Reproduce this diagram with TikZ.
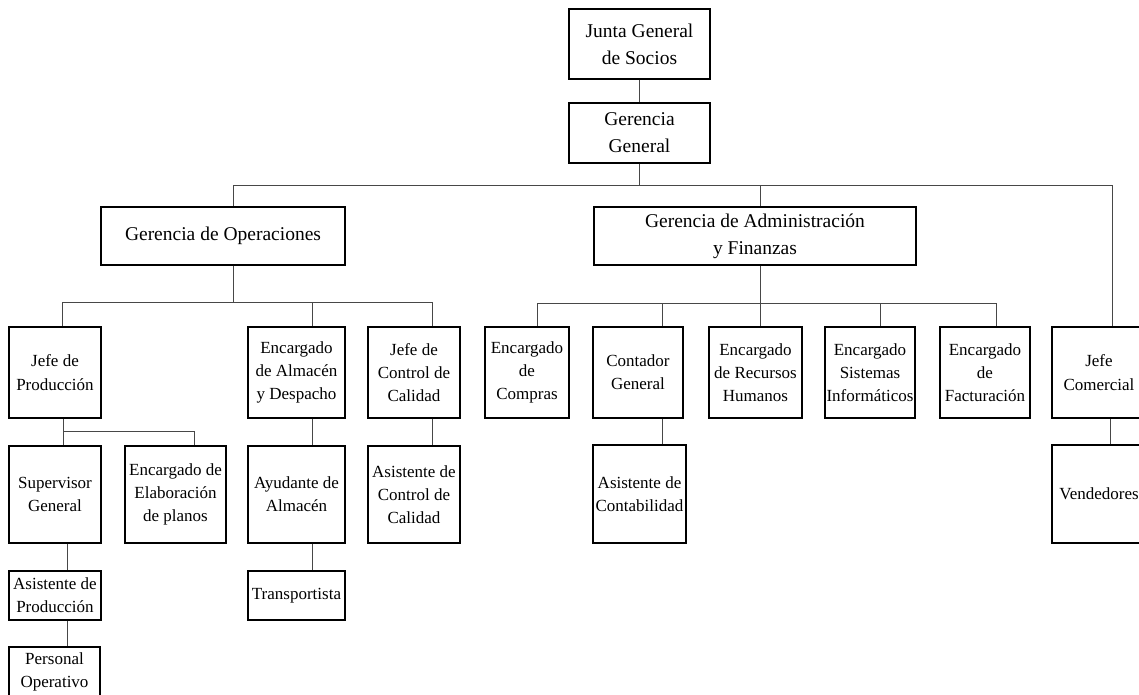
\documentclass[tikz,border=0pt]{standalone}
\usepackage{fontspec}
\setmainfont{Liberation Serif}
\usetikzlibrary{calc}
\newcommand\orgsmallfont{\fontsize{17}{23.3}\selectfont}
\newcommand\orgbigfont{\fontsize{19.5}{27}\selectfont}
\newcommand\orgnode[7][]{\node[orgbox,#1,minimum width={#4-#3},minimum height={#6-#5}] (#2) at ({(#3+#4)/2},{(#5+#6)/2}) {#7};}
\tikzset{
  orgbox/.style={draw=black, line width=1.1pt, fill=white, align=center, inner sep=0pt, font=\orgsmallfont},
  heavy/.style={line width=2.4pt},
  topbox/.style={font=\orgbigfont},
  conn/.style={draw=black!72, line width=0.9pt},
}
\begin{document}
\begin{tikzpicture}[x=1pt,y=-1pt]
\useasboundingbox (0,0) rectangle (1139,695);
\clip (0,0) rectangle (1139,695);
% top levels
\orgnode[topbox]{junta}{569}{710}{9}{79}{Junta General\\de Socios}
\orgnode[topbox]{gg}{569}{710}{103}{163}{Gerencia\\General}
\orgnode[topbox]{gop}{101}{345}{207}{265}{Gerencia de Operaciones}
\orgnode[topbox]{gaf}{594}{916}{207}{265}{Gerencia de Administración\\y Finanzas}
% operations
\orgnode{jp}{9}{101}{327}{418}{Jefe de\\Producción}
\orgnode{ea}{248}{345}{327}{418}{Encargado\\de Almacén\\y Despacho}
\orgnode{jcc}{368}{460}{327}{418}{Jefe de\\Control de\\Calidad}
\orgnode{sg}{9}{101}{446}{543}{Supervisor\\General}
\orgnode{eep}{125}{226}{446}{543}{Encargado de\\Elaboración\\de planos}
\orgnode{aya}{248}{345}{446}{543}{Ayudante de\\Almacén}
\orgnode{acc}{368}{460}{446}{543}{Asistente de\\Control de\\Calidad}
\orgnode{ap}{9}{101}{571}{620}{Asistente de\\Producción}
\orgnode{tr}{248}{345}{571}{620}{Transportista}
\orgnode{po}{9}{100}{647}{697}{Personal\\Operativo}
% administration
\orgnode{ec}{485}{569}{327}{418}{Encargado\\de\\Compras}
\orgnode[heavy]{cg}{593}{683}{327}{418}{Contador\\General}
\orgnode[heavy]{rh}{709}{802}{327}{418}{Encargado\\de Recursos\\Humanos}
\orgnode[heavy]{si}{825}{915}{327}{418}{Encargado\\Sistemas\\Informáticos}
\orgnode{ef}{940}{1030}{327}{418}{Encargado\\de\\Facturación}
\orgnode[heavy]{jc}{1052}{1146}{327}{418}{Jefe\\Comercial}
\orgnode{acb}{593}{686}{445}{543}{Asistente de\\Contabilidad}
\orgnode[heavy]{ven}{1052}{1146}{445}{543}{Vendedores}
% bus levels
\coordinate (busA) at (0,185);
\coordinate (busB) at (0,302);
\coordinate (busC) at (0,431);
\coordinate (busI) at (0,303);
% connector end points
\path ([xshift=10pt]gop.north) coordinate (gopT)
      ([xshift=10pt]gop.south) coordinate (gopB)
      ([xshift=5pt]gaf.north) coordinate (gafT)
      ([xshift=5pt]gaf.south) coordinate (gafB)
      ([xshift=13pt]jc.north) coordinate (jcT)
      ([xshift=11pt]jc.south) coordinate (jcB)
      ([xshift=7.5pt]jp.north) coordinate (jpT)
      ([xshift=8pt]jp.south) coordinate (jpB)
      ([xshift=15.5pt]ea.north) coordinate (eaT)
      ([xshift=15.5pt]ea.south) coordinate (eaB)
      ([xshift=18pt]jcc.north) coordinate (jccT)
      ([xshift=18pt]jcc.south) coordinate (jccB)
      ([xshift=8pt]sg.north) coordinate (sgT)
      ([xshift=12pt]sg.south) coordinate (sgB)
      ([xshift=18.5pt]eep.north) coordinate (eepT)
      ([xshift=15.5pt]aya.south) coordinate (ayaB)
      ([xshift=12pt]ap.south) coordinate (apB)
      ([xshift=10pt]ec.north) coordinate (ecT)
      ([xshift=24pt]cg.north) coordinate (cgT)
      ([xshift=24pt]cg.south) coordinate (cgB)
      ([xshift=4.5pt]rh.north) coordinate (rhT)
      ([xshift=10pt]si.north) coordinate (siT)
      ([xshift=11pt]ef.north) coordinate (efT);
% level 1
\draw[conn] (junta.south) -- (gg.north);
\draw[conn] (gg.south) -- (gg.south |- busA);
\draw[conn] (gopT |- busA) -- (jcT |- busA);
\draw[conn] (gopT |- busA) -- (gopT);
\draw[conn] (gafT |- busA) -- (gafT);
\draw[conn] (jcT |- busA) -- (jcT);
% operations
\draw[conn] (gopB) -- (gopB |- busB);
\draw[conn] (jpT |- busB) -- (jccT |- busB);
\draw[conn] (jpT |- busB) -- (jpT);
\draw[conn] (eaT |- busB) -- (eaT);
\draw[conn] (jccT |- busB) -- (jccT);
\draw[conn] (jpB) -- (jpB |- busC) -- (eepT |- busC) -- (eepT);
\draw[conn] (jpB |- busC) -- (sgT);
\draw[conn] (eaB) -- (eaB |- aya.north);
\draw[conn] (jccB) -- (jccB |- acc.north);
\draw[conn] (sgB) -- (sgB |- ap.north);
\draw[conn] (apB) -- (apB |- po.north);
\draw[conn] (ayaB) -- (ayaB |- tr.north);
% administration
\draw[conn] (gafB) -- (gafB |- busI);
\draw[conn] (ecT |- busI) -- (efT |- busI);
\draw[conn] (ecT |- busI) -- (ecT);
\draw[conn] (cgT |- busI) -- (cgT);
\draw[conn] (rhT |- busI) -- (rhT);
\draw[conn] (siT |- busI) -- (siT);
\draw[conn] (efT |- busI) -- (efT);
\draw[conn] (cgB) -- (cgB |- acb.north);
\draw[conn] (jcB) -- (jcB |- ven.north);
\end{tikzpicture}
\end{document}
